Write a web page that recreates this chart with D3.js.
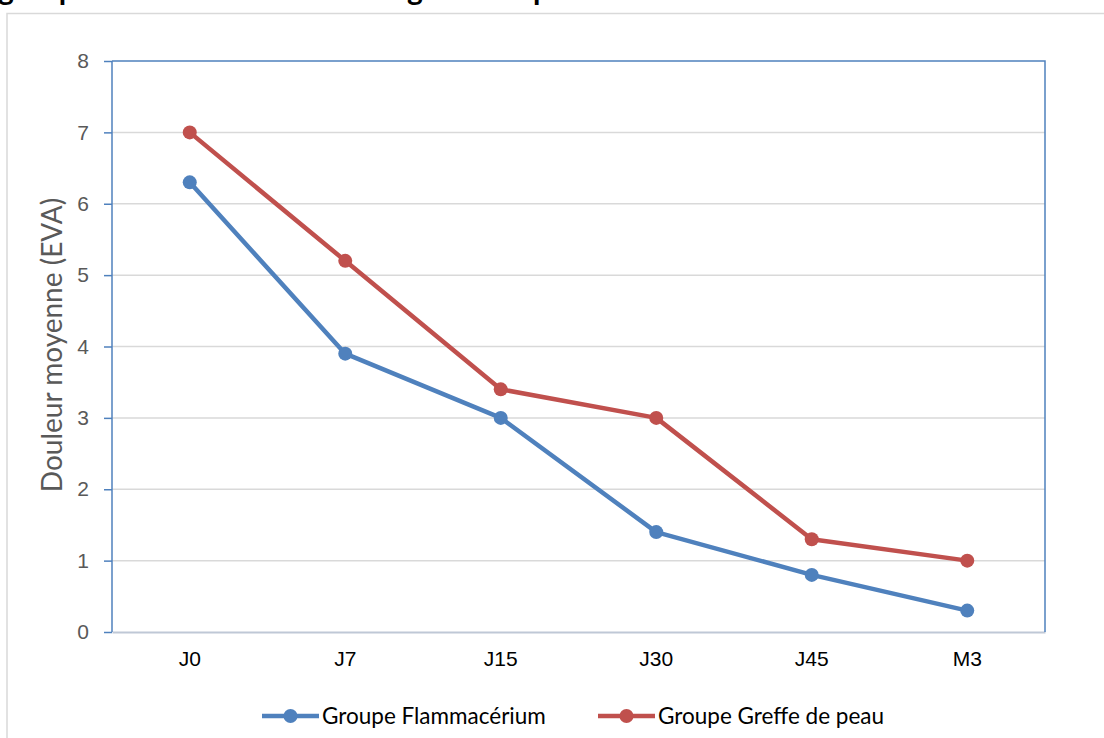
<!DOCTYPE html>
<html>
<head>
<meta charset="utf-8">
<script src="https://cdn.jsdelivr.net/npm/d3@7"></script>
<style>
  body { margin: 0; background: #fff; }
  svg { display: block; font-family: Lato, "Open Sans", sans-serif; }
</style>
</head>
<body>
<svg id="chart" width="1104" height="738"></svg>
<script>
// data
var categories = ["J0", "J7", "J15", "J30", "J45", "M3"];
var flammacerium = [6.3, 3.9, 3.0, 1.4, 0.8, 0.3];
var greffe = [7.0, 5.2, 3.4, 3.0, 1.3, 1.0];
var seriesNames = ["Groupe Flammacérium", "Groupe Greffe de peau"];
var yTicks = [0, 1, 2, 3, 4, 5, 6, 7, 8];

var svg = d3.select("svg#chart"),
    margin = { top: 61, right: 59, bottom: 106, left: 112 },
    width = 1104 - margin.left - margin.right,
    height = 738 - margin.top - margin.bottom;

var blue = "#4F81BD", red = "#C0504D";

// title (cut off at the top of the picture)
svg.append("text")
    .attr("x", -2)
    .attr("y", 0)
    .style("font-weight", "bold")
    .style("font-size", "30px")
    .text("groupe Flammacérium et de la greffe de peau");

// outer chart frame
svg.append("path")
    .attr("d", "M7,738 V13.5 H1104")
    .attr("fill", "none")
    .attr("stroke", "#D9D9D9")
    .attr("stroke-width", 1.5);

var x = d3.scaleBand().domain(categories).range([0, width]),
    y = d3.scaleLinear().domain([0, 8]).range([height, 0]);

var g = svg.append("g")
    .attr("transform", "translate(" + margin.left + "," + margin.top + ")");

// gridlines
g.selectAll(".grid")
    .data(yTicks.slice(1, -1))
    .enter().append("line")
    .attr("x1", 0).attr("x2", width)
    .attr("y1", function (d) { return y(d); })
    .attr("y2", function (d) { return y(d); })
    .attr("stroke", "#D9D9D9")
    .attr("stroke-width", 1.5);

// x axis
var xAxis = g.append("g")
    .attr("transform", "translate(0," + height + ")")
    .call(d3.axisBottom(x).tickSize(0).tickPadding(19));
xAxis.select(".domain").attr("stroke", "#BFC8D6").attr("stroke-width", 2);
xAxis.selectAll("text").style("font-size", "21px").attr("fill", "#000");

// y axis
var yAxis = g.append("g")
    .call(d3.axisLeft(y).tickValues(yTicks).tickSize(8).tickPadding(15));
yAxis.select(".domain").attr("stroke", blue).attr("stroke-width", 1.5).attr("d", "M0," + height + "V0");
yAxis.selectAll(".tick line").attr("stroke", blue).attr("stroke-width", 1.5);
yAxis.selectAll("text").style("font-size", "21px").attr("fill", "#595959");

// plot border top + right
g.append("path")
    .attr("d", "M0,0 H" + width + " V" + height)
    .attr("fill", "none")
    .attr("stroke", blue)
    .attr("stroke-width", 1.5);

// y title
svg.append("text")
    .attr("transform", "translate(62,345) rotate(-90)")
    .attr("text-anchor", "middle")
    .style("font-size", "28px")
    .attr("fill", "#595959")
    .text("Douleur moyenne (EVA)");

// series
var series = [
    { name: seriesNames[0], values: flammacerium, color: blue },
    { name: seriesNames[1], values: greffe, color: red }
];

var line = d3.line()
    .x(function (d, i) { return x(categories[i]) + x.bandwidth() / 2; })
    .y(function (d) { return y(d); });

series.forEach(function (s) {
    g.append("path")
        .datum(s.values)
        .attr("d", line)
        .attr("fill", "none")
        .attr("stroke", s.color)
        .attr("stroke-width", 4.5)
        .attr("stroke-linejoin", "round");

    g.selectAll(null)
        .data(s.values)
        .enter().append("circle")
        .attr("cx", function (d, i) { return x(categories[i]) + x.bandwidth() / 2; })
        .attr("cy", function (d) { return y(d); })
        .attr("r", 7)
        .attr("fill", s.color);
});

// legend
var legendX = [262, 598];
var legend = svg.selectAll(".legend")
    .data(series)
    .enter().append("g")
    .attr("transform", function (d, i) { return "translate(" + legendX[i] + ",716)"; });

legend.append("line")
    .attr("x1", 0).attr("x2", 57)
    .attr("stroke", function (d) { return d.color; })
    .attr("stroke-width", 4.5);
legend.append("circle")
    .attr("cx", 28.5).attr("r", 7)
    .attr("fill", function (d) { return d.color; });
legend.append("text")
    .attr("x", 60)
    .attr("dy", "0.35em")
    .style("font-size", "22.5px")
    .attr("fill", "#000")
    .text(function (d) { return d.name; });
</script>
</body>
</html>
